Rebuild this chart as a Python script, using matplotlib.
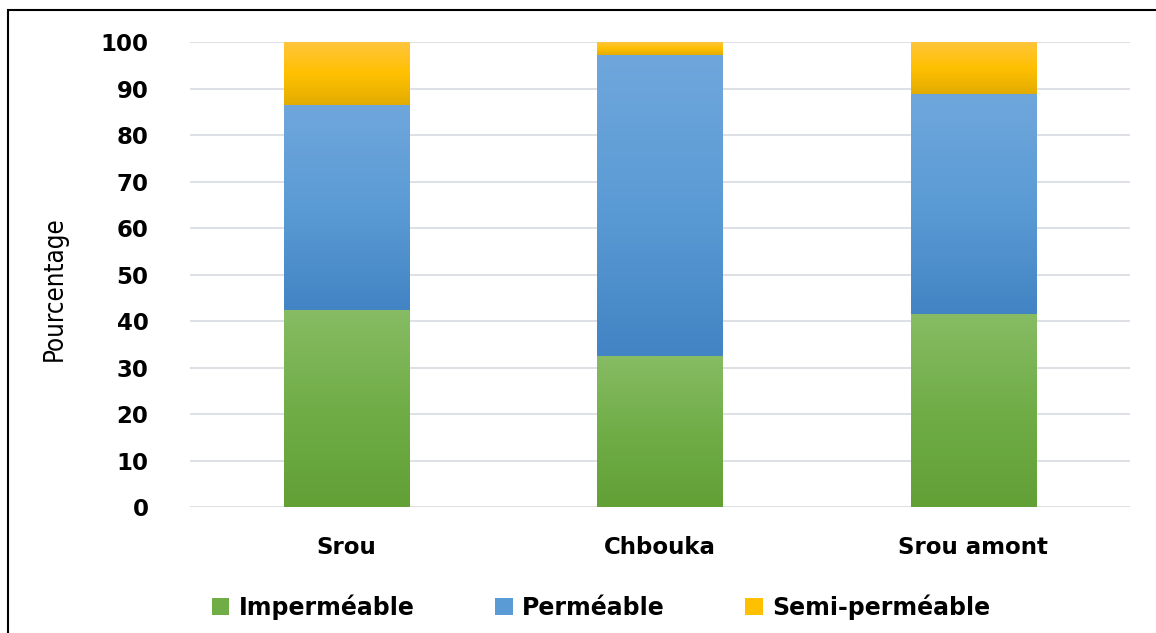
import numpy as np
import matplotlib
matplotlib.use('Agg')
import matplotlib.pyplot as plt
from matplotlib.colors import LinearSegmentedColormap
from matplotlib.patches import Rectangle

# data
sites = ['Srou', 'Chbouka', 'Srou amont']
impermeable = [42.4, 32.5, 41.5]
permeable = [44.1, 64.8, 47.3]
semi_permeable = [13.5, 2.7, 11.2]

series = [
    ('Imperméable', impermeable, ['#62A036', '#70AD47', '#87BC64']),
    ('Perméable', permeable, ['#4284C4', '#5B9BD5', '#6FA7DC']),
    ('Semi-perméable', semi_permeable, ['#E2AC00', '#FFC000', '#FFC53D']),
]

fig = plt.figure(figsize=(11.56, 6.33), dpi=100)
ax = fig.add_axes([0.1644, 0.199, 0.8131, 0.7346])

x = np.arange(len(sites))
width = 0.4
bottom = np.zeros(len(sites))
handles = []
for name, vals, cols in series:
    cmap = LinearSegmentedColormap.from_list(name, cols)
    bars = ax.bar(x, vals, width, bottom=bottom, color=cols[1], edgecolor='none',
                  label=name, zorder=2)
    # vertical gradient like excel fills
    grad = np.linspace(0, 1, 256).reshape(-1, 1)
    for b in bars:
        x0, y0 = b.get_x(), b.get_y()
        im = ax.imshow(grad, cmap=cmap, origin='lower', aspect='auto',
                       extent=(x0, x0 + b.get_width(), y0, y0 + b.get_height()),
                       zorder=3)
        im.set_clip_path(b)
    handles.append(bars)
    bottom += np.array(vals)

ax.set_xlim(-0.5, 2.5)
ax.set_ylim(0, 100)
ax.set_yticks(range(0, 101, 10))
ax.grid(axis='y', color='#DDE1E6', linewidth=1.4, zorder=0)
ax.set_axisbelow(True)
for s in ax.spines.values():
    s.set_visible(False)
ax.tick_params(length=0)
ax.tick_params(axis='y', pad=30)
ax.tick_params(axis='x', pad=21)
ax.set_xticks(x)
ax.set_xticklabels(sites, fontsize=16.5, fontweight='bold')
for t in ax.get_yticklabels():
    t.set_fontsize(16.5)
    t.set_fontweight('bold')
ax.set_ylabel('Pourcentage', fontsize=18.5, stretch='condensed')
ax.yaxis.set_label_coords(-0.13, 0.47)

leg = fig.legend(handles=handles, labels=[s[0] for s in series], loc='center',
                 bbox_to_anchor=(0.52, 0.041), ncol=3, frameon=False,
                 prop={'size': 17, 'weight': 'bold'},
                 handlelength=0.75, handleheight=0.75, handletextpad=0.4, columnspacing=3.4)

# outer frame (cut off on right/bottom in the reference)
fig.patches.append(Rectangle((8 / 1156, -0.05), 1.2, 1 - 10 / 633 + 0.05,
                             transform=fig.transFigure, fill=False,
                             edgecolor='black', linewidth=1.5))

fig.savefig('out.png', dpi=100)
